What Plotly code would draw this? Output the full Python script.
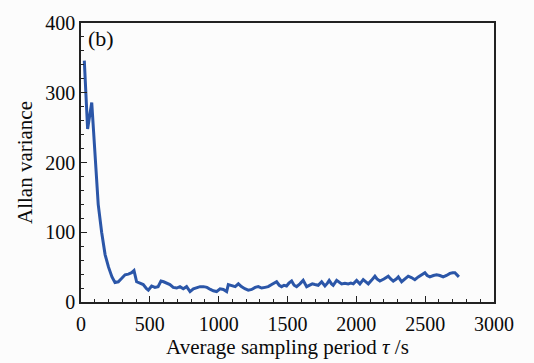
import plotly.graph_objects as go

tau = [24, 48, 78, 100, 125, 150, 175, 200, 225, 247, 271, 296, 320, 344, 368, 385, 404, 428, 452, 476,
       489, 513, 537, 560, 581, 600, 622, 646, 670, 695, 719, 743, 767, 792, 816, 840, 865, 890, 915, 940,
       961, 985, 1010, 1034, 1058, 1070, 1095, 1120, 1143, 1165, 1190, 1215, 1240, 1265, 1288, 1312, 1337,
       1360, 1385, 1421, 1440, 1457, 1475, 1493, 1510, 1530, 1548, 1566, 1590, 1614, 1639, 1660, 1680, 1699,
       1723, 1748, 1772, 1790, 1803, 1820, 1832, 1857, 1875, 1893, 1917, 1941, 1960, 1978, 2002, 2026, 2050,
       2068, 2087, 2110, 2135, 2150, 2171, 2200, 2232, 2250, 2268, 2290, 2305, 2329, 2353, 2377, 2400, 2425,
       2450, 2475, 2498, 2515, 2534, 2560, 2583, 2607, 2631, 2655, 2680, 2700, 2716, 2745]
allan = [346, 248, 286, 210, 140, 100, 68, 50, 36, 28, 29, 34, 39, 40, 42, 45, 29, 27, 25, 19,
         17, 23, 21, 22, 30, 29, 27, 25, 21, 20, 22, 19, 22, 15, 19, 21, 22, 22, 21, 18,
         16, 15, 19, 18, 15, 25, 23, 22, 26, 22, 19, 17, 18, 21, 22, 20, 21,
         22, 25, 29, 24, 22, 24, 23, 27, 30, 24, 22, 26, 31, 22, 24, 26, 25,
         24, 29, 23, 27, 31, 26, 24, 31, 28, 26, 27, 26, 27, 26, 31, 26, 32,
         29, 26, 31, 37, 33, 30, 33, 37, 33, 30, 33, 36, 29, 33, 37, 35, 32,
         36, 39, 42, 38, 36, 38, 39, 38, 36, 38, 41, 42, 42, 36]

x_ticks = [0, 500, 1000, 1500, 2000, 2500, 3000]
y_ticks = [0, 100, 200, 300, 400]

FONT = "Liberation Serif"
TXT = "#0a0a0a"

fig = go.Figure()
fig.add_trace(go.Scatter(x=tau, y=allan, mode="lines",
                         line=dict(color="#2b56a8", width=3), showlegend=False))

axis_common = dict(showline=True, linecolor="#222", linewidth=1.5, mirror=True,
                   ticks="inside", ticklen=6, tickcolor="#222", showgrid=False, zeroline=False,
                   tickfont=dict(family=FONT, size=20, color=TXT))

fig.update_xaxes(range=[0, 3000], tickvals=x_ticks, ticktext=[str(v) for v in x_ticks],
                 minor=dict(dtick=100, ticks="inside", ticklen=3, tickcolor="#222"),
                 ticklabelstandoff=3,
                 title=dict(text="Average sampling period <i>τ</i> /s",
                            font=dict(family=FONT, size=21, color=TXT), standoff=2),
                 **axis_common)
fig.update_yaxes(range=[0, 400], tickvals=y_ticks, ticktext=[str(v) for v in y_ticks],
                 minor=dict(dtick=20, ticks="inside", ticklen=3, tickcolor="#222"),
                 title=dict(text="Allan variance",
                            font=dict(family=FONT, size=21, color=TXT), standoff=7),
                 **axis_common)

fig.add_annotation(x=0.012, y=0.995, xref="paper", yref="paper", text="(b)", showarrow=False,
                   xanchor="left", yanchor="top", font=dict(family=FONT, size=22, color=TXT))

fig.update_layout(width=534, height=363, margin=dict(l=81, r=40, t=16, b=58),
                  paper_bgcolor="#fcfcfc", plot_bgcolor="#fcfcfc")

fig.write_html("out.html")
